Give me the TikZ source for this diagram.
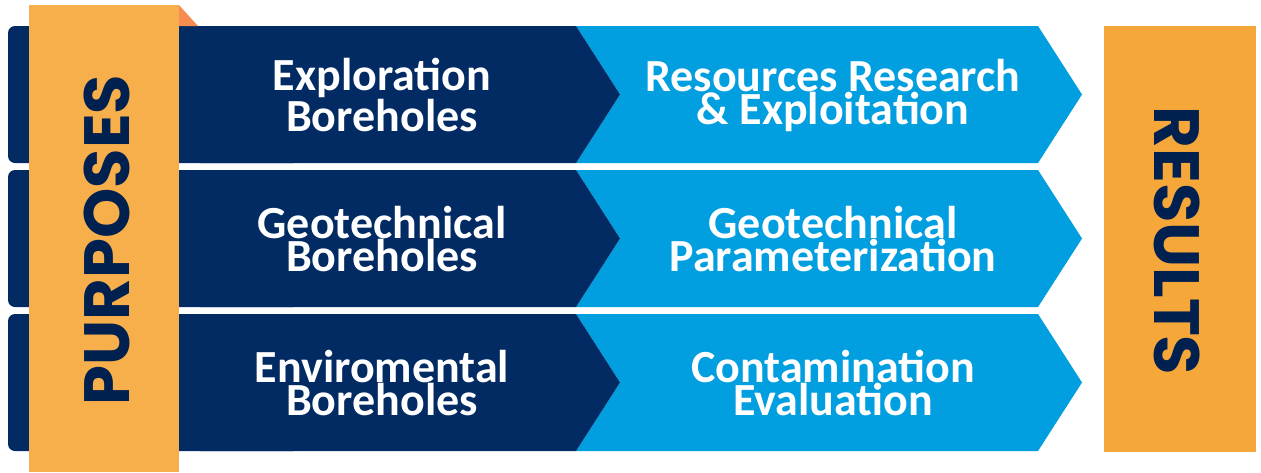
\documentclass[tikz,border=0pt]{standalone}
\usepackage{fontspec}
\setmainfont{Carlito}
\newfontfamily\bannerfont{Poppins}
\definecolor{navy}{HTML}{022A63}
\definecolor{sky}{HTML}{019EE0}
\definecolor{amber}{HTML}{F7AF4B}
\definecolor{amberdeep}{HTML}{F6A73A}
\definecolor{fold}{HTML}{F78C50}
\definecolor{ink}{HTML}{00204F}
\begin{document}
\begin{tikzpicture}[x=1pt,y=-1pt,
  rowtext/.style={text=white,font=\bfseries\fontsize{46}{33}\selectfont,align=center,inner sep=0pt},
  banner/.style={text=ink,font=\bannerfont\bfseries\fontsize{64}{64}\selectfont,inner sep=0pt}
  ]
  \useasboundingbox (0,0) rectangle (1261,472);

  \foreach \ytop/\purpose/\result [count=\i] in {
      26/{Exploration\\Boreholes}/{Resources Research\\\& Exploitation},
      170/{Geotechnical\\Boreholes}/{Geotechnical\\Parameterization},
      314/{Enviromental\\Boreholes}/{Contamination\\Evaluation}}{
    \fill[sky] (576,\ytop) -- (1038,\ytop) -- (1082,\ytop+68.5) -- (1038,\ytop+137)
      -- (576,\ytop+137) -- (620,\ytop+68.5) -- cycle;
    \fill[navy,rounded corners=7pt] (8,\ytop) rectangle (300,\ytop+137);
    \fill[navy] (200,\ytop) -- (576,\ytop) -- (620,\ytop+68.5) -- (576,\ytop+137) -- (200,\ytop+137) -- cycle;
    \node[rowtext] (purpose\i) at (382,\ytop+69) {\purpose};
    \node[rowtext] (result\i) at (833,\ytop+69) {\result};
  }

  \fill[amber] (29,5) rectangle (179,472);
  \fill[fold] (179,5) -- (198,26) -- (179,26) -- cycle;
  \node[banner,rotate=90] (purposes) at (106.5,240) {PURPOSES};

  \fill[amberdeep] (1104,26) rectangle (1256,452);
  \node[banner,rotate=-90] (results) at (1177,241) {RESULTS};
\end{tikzpicture}
\end{document}
